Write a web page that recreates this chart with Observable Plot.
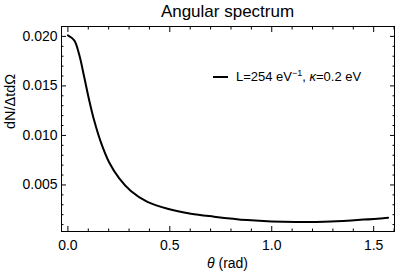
<!DOCTYPE html>
<html><head><meta charset="utf-8">
<script src="https://cdn.jsdelivr.net/npm/d3@7"></script>
<script src="https://cdn.jsdelivr.net/npm/@observablehq/plot@0.6"></script>
<style>
body{margin:0;background:#fff;}
#chart{position:relative;width:400px;height:275px;font-family:"Liberation Sans",Arial,sans-serif;color:#000;}
.ov{position:absolute;white-space:nowrap;line-height:1;}
</style></head><body><div id="chart"></div>
<script>
const titleText = "Angular spectrum";
const yLabelText = "dN/ΔtdΩ";
const theta = [0, 0.031, 0.055, 0.080, 0.104, 0.129, 0.162, 0.202, 0.251, 0.309, 0.390, 0.489, 0.603, 0.717, 0.880, 1.000, 1.118, 1.290, 1.450, 1.571];
const dN =    [0.0201, 0.0196, 0.0182, 0.0159, 0.0136, 0.0115, 0.0093, 0.0073, 0.0057, 0.0044, 0.0033, 0.0026, 0.0021, 0.0018, 0.00145, 0.0013, 0.00125, 0.0013, 0.0015, 0.0017];
const xTicks = [0, 0.5, 1.0, 1.5];
const xMinor = [0.1, 0.2, 0.3, 0.4, 0.6, 0.7, 0.8, 0.9, 1.1, 1.2, 1.3, 1.4, 1.6];
const yTicks = [0.005, 0.010, 0.015, 0.020];
const yMinor = [0.001,0.002,0.003,0.004,0.006,0.007,0.008,0.009,0.011,0.012,0.013,0.014,0.016,0.017,0.018,0.019];
const xDomain = [-0.0314, 1.6022];
const yDomain = [0.0003, 0.0210];

const data = theta.map((t, i) => ({t, v: dN[i]}));
const blank = () => "";
const plot = Plot.plot({
  width: 400, height: 275,
  marginLeft: 61, marginRight: 6, marginTop: 26, marginBottom: 44,
  style: {fontFamily: '"Liberation Sans", Arial, sans-serif', fontSize: "14px", color: "#000", background: "#fff"},
  x: {domain: xDomain},
  y: {domain: yDomain},
  marks: [
    Plot.frame({stroke: "#000", strokeWidth: 1}),
    Plot.axisX(xTicks, {anchor: "bottom", tickSize: -5, tickPadding: 14, tickFormat: d3.format(".1f"), label: null, fontSize: 14}),
    Plot.axisX(xMinor, {anchor: "bottom", tickSize: -2.5, tickFormat: blank, label: null}),
    Plot.axisX(xTicks, {anchor: "top", tickSize: -5, tickFormat: blank, label: null}),
    Plot.axisX(xMinor, {anchor: "top", tickSize: -2.5, tickFormat: blank, label: null}),
    Plot.axisY(yTicks, {anchor: "left", tickSize: -5, tickPadding: 9, tickFormat: d3.format(".3f"), label: null, fontSize: 14}),
    Plot.axisY(yMinor, {anchor: "left", tickSize: -2.5, tickFormat: blank, label: null}),
    Plot.axisY(yTicks, {anchor: "right", tickSize: -5, tickFormat: blank, label: null}),
    Plot.axisY(yMinor, {anchor: "right", tickSize: -2.5, tickFormat: blank, label: null}),
    Plot.line(data, {x: "t", y: "v", stroke: "#000", strokeWidth: 2, curve: "catmull-rom"}),
    Plot.text([yLabelText], {frameAnchor: "left", rotate: -90, dx: -51, fontSize: 14.5})
  ]
});
const root = document.getElementById("chart");
root.appendChild(plot);
function ov(html, css) { const d = document.createElement("div"); d.className = "ov"; d.innerHTML = html; Object.assign(d.style, css); root.appendChild(d); }
ov(titleText, {left: "0px", width: "455px", textAlign: "center", top: "3px", fontSize: "17px"});
ov('<i>θ</i> (rad)', {left: "0px", width: "455px", textAlign: "center", top: "256px", fontSize: "14px"});
ov('<span style="display:inline-block;width:15px;border-top:2px solid #000;vertical-align:middle;margin-right:8px;position:relative;top:-1px"></span>L=254 eV<sup style="font-size:9px">−1</sup>, <i>κ</i>=0.2 eV', {left: "213px", top: "69px", fontSize: "13px"});
</script></body></html>
